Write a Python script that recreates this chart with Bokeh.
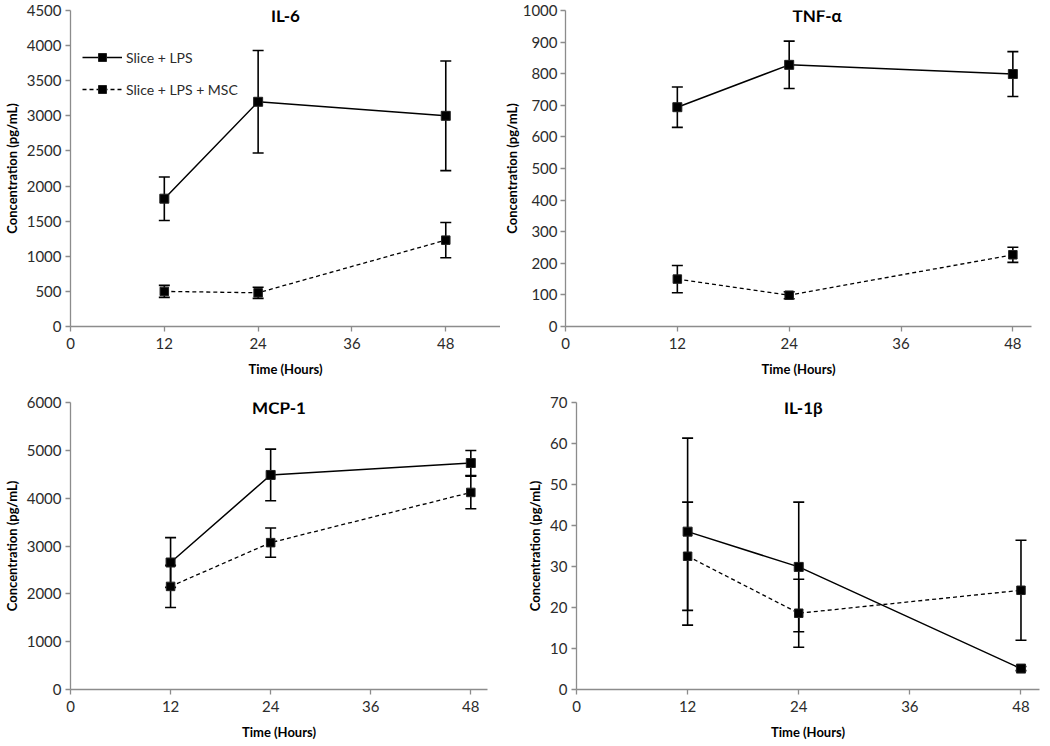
from bokeh.plotting import figure
from bokeh.models import (Range1d, FixedTicker, Whisker, TeeHead, ColumnDataSource,
                          Label, Legend, LegendItem)
from bokeh.layouts import column, row
from bokeh.embed import file_html
from bokeh.resources import INLINE

hours = [12, 24, 48]
x_ticks = [0, 12, 24, 36, 48]

il6_lps = [1820, 3200, 3000]
il6_lps_err = [310, 730, 780]
il6_msc = [500, 480, 1230]
il6_msc_err = [85, 80, 250]

tnf_lps = [694, 828, 799]
tnf_lps_err = [64, 75, 71]
tnf_msc = [150, 99, 227]
tnf_msc_err = [43, 11, 24]

mcp_lps = [2655, 4485, 4735]
mcp_lps_err = [520, 540, 260]
mcp_msc = [2155, 3070, 4120]
mcp_msc_err = [440, 305, 340]

il1b_lps = [38.5, 29.9, 5.1]
il1b_lps_err = [22.8, 15.8, 0.5]
il1b_msc = [32.5, 18.6, 24.2]
il1b_msc_err = [13.2, 8.3, 12.2]

series_names = ["Slice + LPS", "Slice + LPS + MSC"]

FONT = "Lato"
AXIS_GRAY = "#8c8c8c"
TEXT = "#2b2b2b"


def make_panel(title, title_x, lps, lps_err, msc, msc_err, xmax, ymax, ystep,
               width, height, borders, legend=False, ystand=(4, 4)):
    bl, br, bt, bb = borders
    p = figure(width=width, height=height, output_backend="svg", toolbar_location=None,
               x_range=Range1d(0, xmax), y_range=Range1d(0, ymax),
               min_border_left=bl, min_border_right=br, min_border_top=bt,
               min_border_bottom=bb)
    p.outline_line_color = None
    p.grid.visible = False
    p.background_fill_color = "white"
    p.border_fill_color = "white"

    p.xaxis.ticker = FixedTicker(ticks=x_ticks)
    p.yaxis.ticker = FixedTicker(ticks=list(range(0, ymax + 1, ystep)))
    for ax in (p.xaxis, p.yaxis):
        ax.axis_line_color = AXIS_GRAY
        ax.axis_line_width = 1.3
        ax.major_tick_line_color = AXIS_GRAY
        ax.major_tick_line_width = 1.3
        ax.major_tick_in = 0
        ax.major_tick_out = 5
        ax.minor_tick_line_color = None
        ax.major_label_text_font = FONT
        ax.major_label_text_font_size = "15px"
        ax.major_label_text_color = TEXT
        ax.axis_label_text_font = FONT
        ax.axis_label_text_font_size = "13px"
        ax.axis_label_text_font_style = "bold"
        ax.axis_label_text_color = "black"
    p.xaxis.axis_label = "Time (Hours)"
    p.yaxis.axis_label = "Concentration (pg/mL)"
    p.xaxis.major_label_standoff = 6
    p.xaxis.axis_label_standoff = 9
    p.yaxis.major_label_standoff = ystand[0]
    p.yaxis.axis_label_standoff = ystand[1]

    src_l = ColumnDataSource(dict(x=hours, y=lps,
                                  lo=[v - e for v, e in zip(lps, lps_err)],
                                  hi=[v + e for v, e in zip(lps, lps_err)]))
    src_m = ColumnDataSource(dict(x=hours, y=msc,
                                  lo=[v - e for v, e in zip(msc, msc_err)],
                                  hi=[v + e for v, e in zip(msc, msc_err)]))

    for src in (src_l, src_m):
        w = Whisker(base="x", upper="hi", lower="lo", source=src,
                    line_color="black", line_width=1.6,
                    upper_head=TeeHead(size=11, line_color="black", line_width=1.6),
                    lower_head=TeeHead(size=11, line_color="black", line_width=1.6))
        p.add_layout(w)

    l1 = p.line("x", "y", source=src_l, line_color="black", line_width=1.5)
    m1 = p.scatter("x", "y", source=src_l, marker="square", size=9,
                   fill_color="black", line_color="#222222", line_width=1)
    l2 = p.line("x", "y", source=src_m, line_color="black", line_width=1.3,
                line_dash="4 3")
    m2 = p.scatter("x", "y", source=src_m, marker="square", size=8.5,
                   fill_color="black", line_color="#222222", line_width=1)

    p.add_layout(Label(x=title_x, y=ymax, text=title, text_align="center",
                       text_baseline="middle", y_offset=-5, text_font=FONT,
                       text_font_size="17px", text_font_style="bold",
                       text_color="black"))

    if legend:
        leg = Legend(items=[LegendItem(label=series_names[0], renderers=[l1, m1]),
                            LegendItem(label=series_names[1], renderers=[l2, m2])],
                     location=(12, 227), orientation="vertical")
        leg.border_line_color = None
        leg.background_fill_alpha = 0
        leg.padding = 0
        leg.margin = 0
        leg.spacing = 12
        leg.glyph_width = 40
        leg.glyph_height = 20
        leg.label_height = 20
        leg.label_standoff = 4
        leg.label_text_font = FONT
        leg.label_text_font_size = "14px"
        leg.label_text_color = TEXT
        p.add_layout(leg)
    return p


p1 = make_panel("IL-6", 27.5, il6_lps, il6_lps_err, il6_msc, il6_msc_err, 55, 4500, 500,
                500, 379, (64, 0, 10, 53), legend=True)
p2 = make_panel("TNF-α", 27, tnf_lps, tnf_lps_err, tnf_msc, tnf_msc_err, 50, 1000, 100,
                541, 379, (61, 10, 10, 53), ystand=(3, 0))
p3 = make_panel("MCP-1", 25, mcp_lps, mcp_lps_err, mcp_msc, mcp_msc_err, 50, 6000, 1000,
                510, 363, (66, 23, 23, 53))
p4 = make_panel("IL-1β", 24.5, il1b_lps, il1b_lps_err, il1b_msc, il1b_msc_err, 50, 70, 10,
                531, 363, (66, 2, 23, 53))

layout = column(row(p1, p2), row(p3, p4))

open("out.html", "w").write(file_html(layout, INLINE))
